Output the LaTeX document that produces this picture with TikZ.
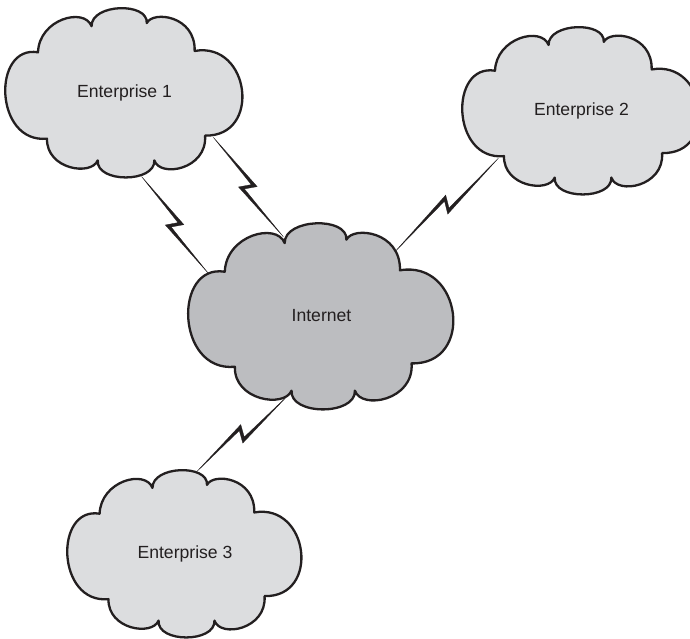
\documentclass[tikz,border=0pt]{standalone}
\usepackage{fontspec}
\setmainfont{Liberation Sans}
\usetikzlibrary{calc}

\definecolor{inkline}{HTML}{231F20}
\definecolor{siteFill}{HTML}{DCDDDF}
\definecolor{netFill}{HTML}{BCBDC0}

\tikzset{
  % cloud outline drawn in a unit box (u to the right, v downwards)
  pics/puffcloud/.style={code={
    \draw[draw=inkline, line width=2.3pt, line join=round, fill=#1]
      (0.135,0.265)
      .. controls (0.14,0.07) and (0.33,0.0) .. (0.361,0.112)
      .. controls (0.36,-0.02) and (0.60,-0.03) .. (0.594,0.094)
      .. controls (0.62,0.02) and (0.80,0.05) .. (0.796,0.257)
      .. controls (1.03,0.2) and (1.08,0.76) .. (0.840,0.752)
      .. controls (0.85,0.95) and (0.65,1.0) .. (0.626,0.897)
      .. controls (0.63,1.03) and (0.38,1.03) .. (0.387,0.897)
      .. controls (0.36,0.99) and (0.17,0.95) .. (0.173,0.770)
      .. controls (-0.05,0.80) and (-0.06,0.22) .. cycle;
  }},
  label text/.style={font=\fontsize{17.6}{20}\selectfont, text=inkline, inner sep=0pt},
  % tapered zig-zag link between two points
  boltlink/.style={fill=inkline, draw=inkline, line width=0.3pt, line join=miter,
    to path={
      let \p1=(\tikztostart), \p2=(\tikztotarget),
          \n1={atan2(\y2-\y1,\x2-\x1)}, \n2={veclen(\x2-\x1,\y2-\y1)} in
      -- ($(\p1)+(\n1:0.52*\n2+2.5pt)+(\n1+90:7.5pt)$)
      -- ($(\p1)+(\n1:0.475*\n2+2.5pt)+(\n1-90:4.3pt)$)
      -- (\p2)
      -- ($(\p1)+(\n1:0.475*\n2-2.5pt)+(\n1-90:8pt)$)
      -- ($(\p1)+(\n1:0.52*\n2-2.5pt)+(\n1+90:3.8pt)$)
      -- cycle
    }}
}

\begin{document}
\begin{tikzpicture}[x=1pt, y=-1pt]
  \useasboundingbox (0,0) rectangle (690,639);

  % clouds
  \pic[xscale=237, yscale=171] at (6,7) {puffcloud=siteFill};
  \pic[xscale=237, yscale=169] at (463,26) {puffcloud=siteFill};
  \pic[xscale=265, yscale=188] at (189,222) {puffcloud=netFill};
  \pic[xscale=234, yscale=169] at (68,469) {puffcloud=siteFill};

  % labels
  \node[label text] (e1) at (124.5,92.5) {Enterprise 1};
  \node[label text] (e2) at (581.5,110.5) {Enterprise 2};
  \node[label text] (inet) at (321.5,316) {Internet};
  \node[label text] (e3) at (185,553.5) {Enterprise 3};

  % link end points on the cloud outlines
  \coordinate (e1 a) at (141.7,176.7);
  \coordinate (e1 b) at (213.3,137.3);
  \coordinate (e2 a) at (498.3,158.3);
  \coordinate (e3 a) at (196.7,471.7);
  \coordinate (inet a) at (208.3,273.3);
  \coordinate (inet b) at (283.3,236.7);
  \coordinate (inet c) at (395,251.7);
  \coordinate (inet d) at (286.7,396.7);

  % links
  \path[boltlink] (e1 a) to (inet a);
  \path[boltlink] (e1 b) to (inet b);
  \path[boltlink] (e2 a) to (inet c);
  \path[boltlink] (inet d) to (e3 a);
\end{tikzpicture}
\end{document}
